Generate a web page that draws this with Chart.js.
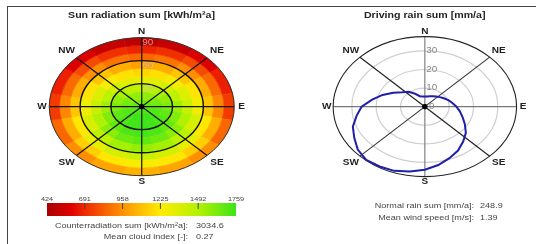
<!DOCTYPE html>
<html>
<head>
<meta charset="utf-8">
<script src="https://cdn.jsdelivr.net/npm/chart.js@4.4.0/dist/chart.umd.min.js"></script>
<style>
  html, body { margin: 0; padding: 0; background: #fff; }
  body { width: 536px; height: 244px; position: relative; overflow: hidden; }
  #frame { position: absolute; left: 7px; top: 6px; width: 600px; height: 300px;
           border-top: 1px solid #444; border-left: 1px solid #444; }
  #sunBox { position: absolute; left: 0; top: 0; }
  #rainBox { position: absolute; left: 270px; top: 0; }
</style>
</head>
<body>
<div id="frame"></div>
<div id="sunBox"><canvas id="sun" width="270" height="244"></canvas></div>
<div id="rainBox"><canvas id="rain" width="266" height="244"></canvas></div>
<script>
// ---- data ----
// sun radiation sum [kWh/m²a] per tilt band (0-10 ... 80-90 deg),
// 16 azimuth sectors starting at N, clockwise
var sectorNames = ['N','NNE','NE','ENE','E','ESE','SE','SSE','S','SSW','SW','WSW','W','WNW','NW','NNW'];
var tiltEdges = [0, 10, 20, 30, 40, 50, 60, 70, 80, 90];
var sunTilt05 = [1640,1642,1650,1670,1690,1705,1720,1728,1730,1728,1720,1705,1690,1670,1650,1642];
var sunTilt15 = [1560,1565,1590,1630,1670,1710,1740,1755,1759,1755,1740,1710,1670,1630,1590,1565];
var sunTilt25 = [1450,1465,1510,1570,1620,1680,1720,1750,1759,1750,1720,1680,1620,1570,1510,1465];
var sunTilt35 = [1310,1330,1390,1470,1540,1610,1670,1720,1740,1720,1670,1610,1540,1470,1390,1330];
var sunTilt45 = [1160,1190,1260,1350,1420,1500,1580,1650,1680,1650,1580,1500,1420,1350,1260,1190];
var sunTilt55 = [1000,1040,1110,1200,1280,1370,1460,1530,1560,1530,1460,1370,1280,1200,1110,1040];
var sunTilt65 = [850,880,950,1040,1110,1210,1310,1380,1420,1380,1310,1210,1110,1040,950,880];
var sunTilt75 = [680,710,780,860,930,1040,1140,1210,1250,1210,1140,1040,930,860,780,710];
var sunTilt85 = [490,520,590,670,740,850,950,1010,1050,1010,950,850,740,670,590,520];
var sunBands = [sunTilt05, sunTilt15, sunTilt25, sunTilt35, sunTilt45, sunTilt55, sunTilt65, sunTilt75, sunTilt85];
var sunRingTicks = [30, 60, 90];
var colorTicks = [424, 691, 958, 1225, 1492, 1759];
var sunInfoLabels = ['Counterradiation sum [kWh/m²a]:', 'Mean cloud index [-]:'];
var sunInfoValues = ['3034.6', '0.27'];

// driving rain sum [mm/a] per azimuth (deg from N, clockwise)
var rainAzimuth = [0,10,20,30,40,50,60,70,80,90,100,110,120,130,140,150,160,170,
                   180,190,200,210,220,230,240,250,260,270,280,290,300,310,320,330,340,350];
var rainSum = [5.5,5.5,6,6.5,7.2,8,9,10.3,11.5,13,14.6,16.5,19,22,24.5,27.3,29.5,31.9,
               34,35.5,36.8,37.2,37.5,36,33.5,31.5,28.5,26,22,18.5,15,12,10.4,8,6,5.6];
var rainRingTicks = [0, 10, 20, 30];
var rainMax = 37.7;
var rainInfoLabels = ['Normal rain sum [mm/a]:', 'Mean wind speed [m/s]:'];
var rainInfoValues = ['248.9', '1.39'];

var compass = [['N',0],['NE',45],['E',90],['SE',135],['S',180],['SW',225],['W',270],['NW',315]];

// ---- style ----
var FONT = '"Liberation Sans", Arial, sans-serif';
var STRETCH = 1.18;
var colorStops = [[424,[168,0,0]],[600,[224,0,0]],[691,[240,40,0]],[958,[255,146,0]],
                  [1225,[255,236,0]],[1492,[180,242,0]],[1759,[60,228,24]]];

function colorFor(v) {
  if (v <= colorStops[0][0]) return 'rgb(' + colorStops[0][1].join(',') + ')';
  for (var i = 1; i < colorStops.length; i++) {
    if (v <= colorStops[i][0]) {
      var a = colorStops[i-1], b = colorStops[i], t = (v - a[0]) / (b[0] - a[0]);
      var c = a[1].map(function(ch, k) { return Math.round(ch + (b[1][k] - ch) * t); });
      return 'rgb(' + c.join(',') + ')';
    }
  }
  return 'rgb(' + colorStops[colorStops.length-1][1].join(',') + ')';
}

function geo(chart) {
  var xs = chart.scales.x, ys = chart.scales.y;
  var cx = xs.getPixelForValue(0), cy = ys.getPixelForValue(0);
  return { cx: cx, cy: cy, kx: xs.getPixelForValue(1) - cx, ky: cy - ys.getPixelForValue(1) };
}
function toPx(g, r, az) {
  var a = az * Math.PI / 180;
  return [g.cx + r * Math.sin(a) * g.kx, g.cy - r * Math.cos(a) * g.ky];
}
function wideText(ctx, txt, x, y, align, font, color) {
  ctx.save();
  ctx.font = font; ctx.fillStyle = color;
  ctx.textAlign = align; ctx.textBaseline = 'middle';
  ctx.translate(x, y); ctx.scale(STRETCH, 1);
  ctx.fillText(txt, 0, 0);
  ctx.restore();
}
function ring(ctx, g, r, color, width) {
  ctx.beginPath();
  ctx.ellipse(g.cx, g.cy, r * g.kx, r * g.ky, 0, 0, Math.PI * 2);
  ctx.strokeStyle = color; ctx.lineWidth = width; ctx.stroke();
}
function spoke(ctx, g, r, az, color, width) {
  var p = toPx(g, r, az), q = toPx(g, r, az + 180);
  ctx.beginPath(); ctx.moveTo(p[0], p[1]); ctx.lineTo(q[0], q[1]);
  ctx.strokeStyle = color; ctx.lineWidth = width; ctx.stroke();
}
function compassLabels(ctx, g, r, fCard, fDiag) {
  compass.forEach(function(d) {
    var f = (d[1] % 90 === 0) ? fCard : fDiag;
    var p = toPx(g, r * f, d[1]);
    wideText(ctx, d[0], p[0], p[1], 'center', 'bold 8.5px ' + FONT, '#222');
  });
}
// linear scale limits so that value 0 sits at (cx, cy) and one unit is kx / ky pixels
function limits(cPx, sizePx, k, flip) {
  var lo = -cPx / k, hi = (sizePx - cPx) / k;
  return flip ? { min: -hi, max: -lo } : { min: lo, max: hi };
}

// ---- sun radiation chart ----
var sunX = limits(142, 270, 96 / 90, false);
var sunY = limits(106, 244, 72 / 90, true);

var sunPlugin = {
  id: 'sunPolar',
  beforeDatasetsDraw: function(chart) {
    var ctx = chart.ctx, g = geo(chart);
    var step = 360 / sectorNames.length;
    sunBands.forEach(function(band, i) {
      var r0 = tiltEdges[i], r1 = tiltEdges[i + 1];
      band.forEach(function(v, j) {
        var a0 = (j * step - step / 2 - 90) * Math.PI / 180;
        var a1 = (j * step + step / 2 - 90) * Math.PI / 180;
        ctx.beginPath();
        ctx.ellipse(g.cx, g.cy, r1 * g.kx, r1 * g.ky, 0, a0, a1);
        if (r0 > 0) ctx.ellipse(g.cx, g.cy, r0 * g.kx, r0 * g.ky, 0, a1, a0, true);
        else ctx.lineTo(g.cx, g.cy);
        ctx.closePath();
        ctx.fillStyle = colorFor(v); ctx.fill();
        ctx.strokeStyle = ctx.fillStyle; ctx.lineWidth = 0.6; ctx.stroke();
      });
    });
    var outer = tiltEdges[tiltEdges.length - 1];
    compass.slice(0, 4).forEach(function(d) { spoke(ctx, g, outer, d[1], '#111', 1.2); });
    sunRingTicks.forEach(function(t) {
      ring(ctx, g, t, t === outer ? '#333' : '#111', t === outer ? 1 : 1.4);
    });
    sunRingTicks.forEach(function(t) {
      wideText(ctx, String(t), g.cx + 6, g.cy - t * g.ky + 5.5, 'center', '8.4px ' + FONT, 'rgba(200,200,200,0.75)');
    });
  },
  afterDatasetsDraw: function(chart) {
    var ctx = chart.ctx, g = geo(chart);
    wideText(ctx, 'Sun radiation sum [kWh/m²a]', 141.5, 15.7, 'center', 'bold 9px ' + FONT, '#222');
    compassLabels(ctx, g, 90, 1.08, 1.15);

    // colour bar
    var bx0 = 47, bx1 = 236, by0 = 203, by1 = 216;
    var lo = colorTicks[0], hi = colorTicks[colorTicks.length - 1];
    var grad = ctx.createLinearGradient(bx0, 0, bx1, 0);
    colorStops.forEach(function(s) {
      grad.addColorStop((s[0] - lo) / (hi - lo), 'rgb(' + s[1].join(',') + ')');
    });
    ctx.fillStyle = grad; ctx.fillRect(bx0, by0, bx1 - bx0, by1 - by0);
    colorTicks.forEach(function(t, i) {
      var x = bx0 + (t - lo) / (hi - lo) * (bx1 - bx0);
      wideText(ctx, String(t), x, 199, 'center', '6.2px ' + FONT, '#444');
      if (i > 0 && i < colorTicks.length - 1) {
        ctx.beginPath(); ctx.moveTo(x, by0); ctx.lineTo(x, by0 + 6);
        ctx.strokeStyle = '#444'; ctx.lineWidth = 1; ctx.stroke();
      }
    });
    sunInfoLabels.forEach(function(l, i) {
      wideText(ctx, l, 188, 226 + i * 11, 'right', '7.7px ' + FONT, '#444');
      wideText(ctx, sunInfoValues[i], 196, 226 + i * 11, 'left', '7.7px ' + FONT, '#444');
    });
  }
};

new Chart(document.getElementById('sun'), {
  type: 'scatter',
  data: { datasets: [{ data: [{ x: 0, y: 0 }], pointRadius: 2.3, backgroundColor: '#000', borderColor: '#000' }] },
  options: {
    responsive: false, animation: false,
    plugins: { legend: { display: false }, tooltip: { enabled: false } },
    scales: {
      x: { type: 'linear', display: false, min: sunX.min, max: sunX.max },
      y: { type: 'linear', display: false, min: sunY.min, max: sunY.max }
    }
  },
  plugins: [sunPlugin]
});

// ---- driving rain chart ----
var rainX = limits(155.7, 266, 95.3 / rainMax, false);
var rainY = limits(106, 244, 73 / rainMax, true);

var rainPoints = rainSum.map(function(r, i) {
  var a = rainAzimuth[i] * Math.PI / 180;
  return { x: r * Math.sin(a), y: r * Math.cos(a) };
});
rainPoints.push(rainPoints[0]);

var rainPlugin = {
  id: 'rainPolar',
  beforeDatasetsDraw: function(chart) {
    var ctx = chart.ctx, g = geo(chart);
    rainRingTicks.forEach(function(t) { if (t > 0) ring(ctx, g, t, '#cfcfcf', 1.2); });
    spoke(ctx, g, rainMax, 0, '#777', 1.1);
    spoke(ctx, g, rainMax, 90, '#777', 1.1);
    spoke(ctx, g, rainMax, 45, '#333', 1.1);
    spoke(ctx, g, rainMax, 135, '#222', 1.2);
    ring(ctx, g, rainMax, '#222', 1.1);
    rainRingTicks.forEach(function(t) {
      wideText(ctx, String(t), g.cx + 7, g.cy - t * g.ky, 'center', '8.4px ' + FONT, '#888');
    });
  },
  afterDatasetsDraw: function(chart) {
    var ctx = chart.ctx, g = geo(chart);
    wideText(ctx, 'Driving rain sum [mm/a]', 154.7, 15.7, 'center', 'bold 9px ' + FONT, '#222');
    compassLabels(ctx, g, rainMax, 1.07, 1.14);
    rainInfoLabels.forEach(function(l, i) {
      wideText(ctx, l, 204, 206 + i * 12, 'right', '7.7px ' + FONT, '#444');
      wideText(ctx, rainInfoValues[i], 210, 206 + i * 12, 'left', '7.7px ' + FONT, '#444');
    });
  }
};

new Chart(document.getElementById('rain'), {
  type: 'scatter',
  data: {
    datasets: [
      { data: rainPoints, showLine: true, pointRadius: 0, borderColor: '#1f1fa8',
        borderWidth: 2, tension: 0, fill: false },
      { data: [{ x: 0, y: 0 }], pointRadius: 2.3, backgroundColor: '#000', borderColor: '#000' }
    ]
  },
  options: {
    responsive: false, animation: false,
    plugins: { legend: { display: false }, tooltip: { enabled: false } },
    scales: {
      x: { type: 'linear', display: false, min: rainX.min, max: rainX.max },
      y: { type: 'linear', display: false, min: rainY.min, max: rainY.max }
    }
  },
  plugins: [rainPlugin]
});
</script>
</body>
</html>
